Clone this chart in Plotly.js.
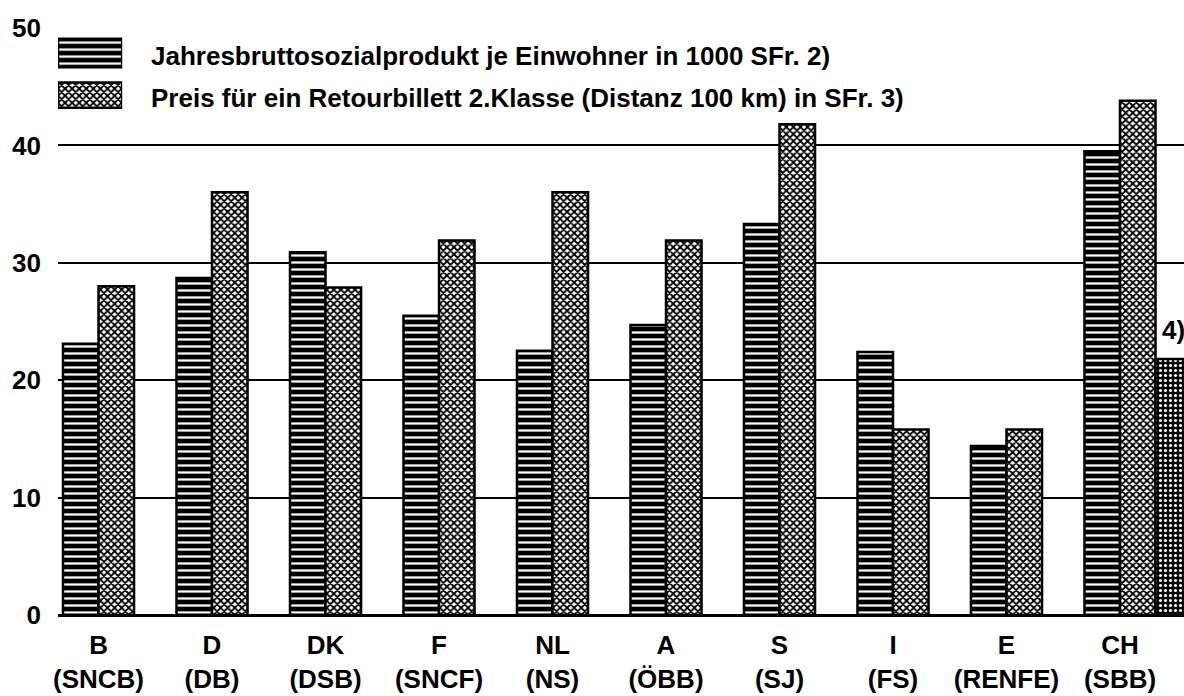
<!DOCTYPE html>
<html>
<head>
<meta charset="utf-8">
<script src="https://cdn.plot.ly/plotly-3.0.1.min.js"></script>
<style>html,body{margin:0;padding:0;background:#fff;}#chart{width:1184px;height:696px;}</style>
</head>
<body>
<div id="chart"></div>
<script>
// ---- data ----
const countries = ["B", "D", "DK", "F", "NL", "A", "S", "I", "E", "CH"];
const railways = ["(SNCB)", "(DB)", "(DSB)", "(SNCF)", "(NS)", "(ÖBB)", "(SJ)", "(FS)", "(RENFE)", "(SBB)"];
const gnpPerCapita = [23.1, 28.7, 30.9, 25.5, 22.5, 24.7, 33.3, 22.4, 14.4, 39.5];
const ticketPrice = [28.0, 36.0, 27.9, 31.9, 36.0, 31.9, 41.8, 15.8, 15.8, 43.8];
const specialCategory = ["CH"];
const specialPrice = [21.8];
const specialLabel = "4)";
const legendKeys = ["gnp", "price"];
const legendTexts = [
  "Jahresbruttosozialprodukt je Einwohner in 1000 SFr. 2)",
  "Preis für ein Retourbillett 2.Klasse (Distanz 100 km) in SFr. 3)"
];
const legendSwatchLength = [1];

// ---- styles ----
const FONT = "Liberation Sans, Arial, Helvetica, sans-serif";
const tickText = countries.map((c, i) => c + "<br>" + railways[i]);
const BW = 0.313;
const gnpPattern = {shape: "-", fgcolor: "#ffffff", bgcolor: "#000000", size: 7, solidity: 0.32};
const pricePattern = {shape: "x", fgcolor: "#000000", bgcolor: "#ffffff", size: 5, solidity: 0.6};
const specialPattern = {shape: ".", fgcolor: "#ffffff", bgcolor: "#000000", size: 5, solidity: 0.3};
const outline = {color: "#000000", width: 2.5};

const traces = [
  {
    type: "bar", x: countries, y: gnpPerCapita, name: legendTexts[0],
    offset: -BW, width: BW, showlegend: false, hoverinfo: "y",
    marker: {color: "#000000", pattern: gnpPattern, line: outline}
  },
  {
    type: "bar", x: countries, y: ticketPrice, name: legendTexts[1],
    offset: 0, width: BW, showlegend: false, hoverinfo: "y",
    marker: {color: "#ffffff", pattern: pricePattern, line: outline}
  },
  {
    type: "bar", x: specialCategory, y: specialPrice, name: specialLabel,
    offset: BW, width: BW, showlegend: false, hoverinfo: "y",
    marker: {color: "#000000", pattern: specialPattern, line: outline}
  },
  {
    type: "bar", orientation: "h", x: legendSwatchLength, y: [legendKeys[0]],
    xaxis: "x2", yaxis: "y2", width: 0.68, showlegend: false, hoverinfo: "skip",
    cliponaxis: false,
    marker: {color: "#000000", pattern: gnpPattern, line: outline}
  },
  {
    type: "bar", orientation: "h", x: legendSwatchLength, y: [legendKeys[1]],
    xaxis: "x2", yaxis: "y2", width: 0.6, showlegend: false, hoverinfo: "skip",
    cliponaxis: false,
    marker: {color: "#ffffff", pattern: pricePattern, line: outline}
  }
];

const labelFont = {family: FONT, size: 26, color: "#000000", weight: "bold"};

const annotations = legendKeys.map((k, i) => ({
  xref: "x2", yref: "y2", x: 1, y: k, xanchor: "left", yanchor: "middle",
  xshift: 27, yshift: -3, text: legendTexts[i], showarrow: false,
  font: {family: FONT, size: 26, color: "#000000", weight: "bold"}
}));
annotations.push({
  xref: "paper", yref: "y", x: 0.979, y: specialPrice[0], xanchor: "left", yanchor: "bottom",
  yshift: 12, text: specialLabel, showarrow: false,
  font: {family: FONT, size: 26, color: "#000000", weight: "bold"}
});

const layout = {
  width: 1184, height: 696,
  margin: {l: 58, r: 0, t: 28, b: 81, pad: 0},
  paper_bgcolor: "#ffffff", plot_bgcolor: "#ffffff",
  barmode: "overlay",
  showlegend: false,
  font: {family: FONT, color: "#000000"},
  xaxis: {
    type: "category", categoryorder: "array", categoryarray: countries,
    range: [-0.357, 9.564], tickvals: countries, ticktext: tickText,
    showgrid: false, showline: false, ticks: "", zeroline: false,
    ticklabelstandoff: 12,
    tickfont: labelFont, fixedrange: true
  },
  yaxis: {
    range: [0, 50], dtick: 10, tick0: 0,
    showgrid: true, gridcolor: "#000000", gridwidth: 2,
    zeroline: true, zerolinecolor: "#000000", zerolinewidth: 3,
    showline: false, ticks: "", ticklabelstandoff: 16,
    tickfont: labelFont, fixedrange: true
  },
  xaxis2: {domain: [0, 0.057], range: [0, 1], anchor: "y2", visible: false, fixedrange: true},
  yaxis2: {domain: [0.85, 0.993], anchor: "x2", type: "category", categoryarray: legendKeys, categoryorder: "array", autorange: "reversed", visible: false, fixedrange: true},
  annotations: annotations
};

Plotly.newPlot("chart", traces, layout, {staticPlot: true, displayModeBar: false});
</script>
</body>
</html>
